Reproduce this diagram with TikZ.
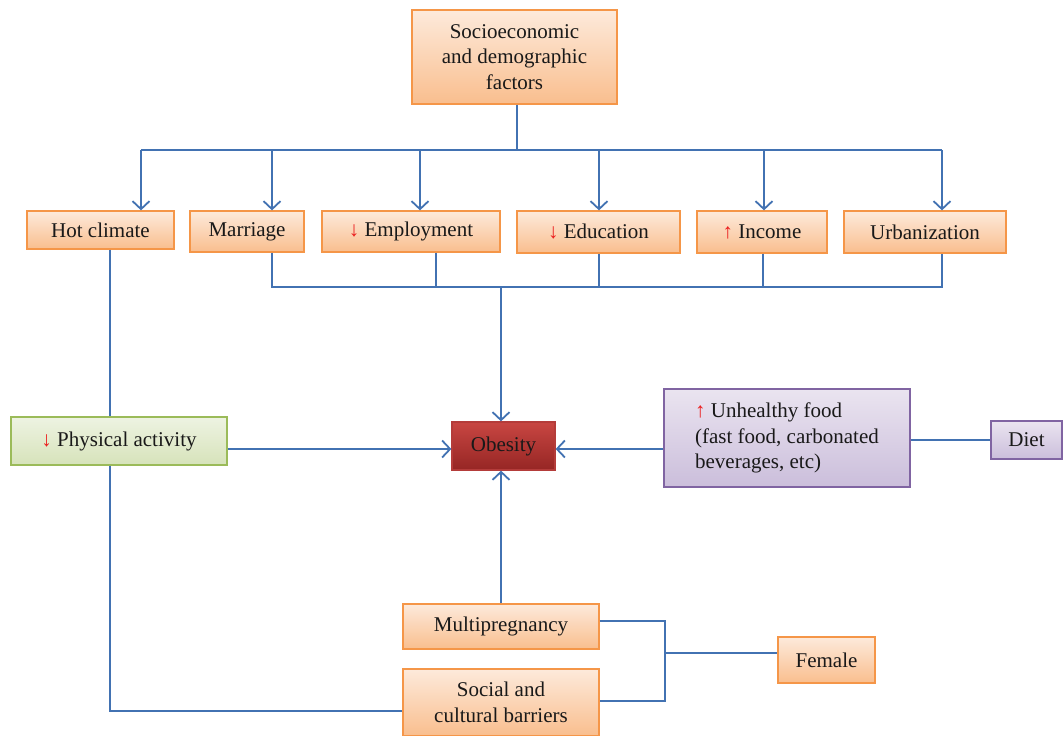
\documentclass[tikz,border=0pt]{standalone}
\usepackage{fontspec}
\setmainfont{Liberation Serif}
\usetikzlibrary{arrows.meta}
\definecolor{lineblue}{RGB}{66,114,178}
\definecolor{orTop}{RGB}{253,234,219}
\definecolor{orBot}{RGB}{249,190,142}
\definecolor{orEdge}{RGB}{245,150,72}
\definecolor{grTop}{RGB}{238,243,226}
\definecolor{grBot}{RGB}{214,227,186}
\definecolor{grEdge}{RGB}{155,187,89}
\definecolor{puTop}{RGB}{234,228,240}
\definecolor{puBot}{RGB}{203,190,219}
\definecolor{puEdge}{RGB}{128,100,162}
\definecolor{reTop}{RGB}{200,70,66}
\definecolor{reBot}{RGB}{150,38,36}
\definecolor{reEdge}{RGB}{180,60,58}
\definecolor{arrred}{RGB}{235,30,30}
\tikzset{
  x=1pt,y=-1pt,
  box/.style={draw, line width=1.3pt, inner sep=2pt, align=center, font=\fontsize{21}{25.5}\selectfont, text=black!90},
  obox/.style={box, draw=orEdge, top color=orTop, bottom color=orBot},
  gbox/.style={box, draw=grEdge, top color=grTop, bottom color=grBot},
  pbox/.style={box, draw=puEdge, top color=puTop, bottom color=puBot},
  rbox/.style={box, draw=reEdge, top color=reTop, bottom color=reBot},
  conn/.style={draw=lineblue, line width=2pt},
  arr/.style={conn, -{Straight Barb[length=8pt,width=17pt,line width=1.8pt]}},
}
\newcommand{\dn}{{\color{arrred}↓}}
\newcommand{\up}{{\color{arrred}↑}}
\begin{document}
\begin{tikzpicture}
\useasboundingbox (0,0) rectangle (1063,736);
% nodes
\node[obox, minimum width=205, minimum height=94] (socio) at (514.5,57) {Socioeconomic\\and demographic\\factors};
\node[obox, minimum width=147, minimum height=38] (hot) at (100.5,230) {Hot climate};
\node[obox, minimum width=114, minimum height=41] (mar) at (247,231.5) {Marriage};
\node[obox, minimum width=178, minimum height=41] (emp) at (411,231.5) {\dn\ Employment};
\node[obox, minimum width=163, minimum height=42] (edu) at (598.5,232) {\dn\ Education};
\node[obox, minimum width=130, minimum height=42] (inc) at (762,232) {\up\ Income};
\node[obox, minimum width=162, minimum height=42] (urb) at (925,232) {Urbanization};
\node[gbox, minimum width=216, minimum height=48] (pa) at (119,441) {\dn\ Physical activity};
\node[rbox, minimum width=103, minimum height=48] (ob) at (503.5,446) {Obesity};
\node[pbox, minimum width=246, minimum height=98, align=left] (food) at (787,438) {\up\ Unhealthy food\\(fast food, carbonated\\beverages, etc)};
\node[pbox, minimum width=71, minimum height=38] (diet) at (1026.5,440) {Diet};
\node[obox, minimum width=196, minimum height=45] (multi) at (501,626.5) {Multipregnancy};
\node[obox, minimum width=196, minimum height=67] (soc) at (501,702.5) {Social and\\cultural barriers};
\node[obox, minimum width=97, minimum height=46] (fem) at (826.5,660) {Female};
% top bus
\coordinate (busT) at (517,150);
\coordinate (busL) at (141,150);
\coordinate (busR) at (942,150);
\draw[conn] (socio.south -| busT) -- (busT);
\draw[conn] (busL) -- (busR);
\draw[arr] (busL) -- (hot.north -| busL);
\draw[arr] (272,150) -- (mar.north -| 272,0);
\draw[arr] (420,150) -- (emp.north -| 420,0);
\draw[arr] (599,150) -- (edu.north -| 599,0);
\draw[arr] (764,150) -- (inc.north -| 764,0);
\draw[arr] (busR) -- (urb.north -| busR);
% bottom bus
\coordinate (bbL) at (272,287);
\coordinate (bbR) at (942,287);
\coordinate (bbM) at (501,287);
\draw[conn] (mar.south -| bbL) -- (bbL) -- (bbR) -- (urb.south -| bbR);
\draw[conn] (emp.south -| 436,0) -- (436,287);
\draw[conn] (edu.south -| 599,0) -- (599,287);
\draw[conn] (inc.south -| 763,0) -- (763,287);
\draw[arr] (bbM) -- (ob.north -| bbM);
% left side
\coordinate (hx) at (110,0);
\draw[conn] (hot.south -| hx) -- (pa.north -| hx);
\draw[arr] (pa.east |- 0,449) -- (ob.west |- 0,449);
\draw[arr] (food.west |- 0,449) -- (ob.east |- 0,449);
\draw[conn] (food.east |- diet.west) -- (diet.west);
\coordinate (pc) at (110,711);
\draw[conn] (pa.south -| hx) -- (pc) -- (soc.west |- pc);
% multipregnancy
\draw[arr] (multi.north -| 501,0) -- (ob.south -| 501,0);
\coordinate (fj) at (665,653);
\draw[conn] (multi.east |- 0,621) -- (665,621) -- (665,701) -- (soc.east |- 0,701);
\draw[conn] (fj) -- (fem.west |- fj);
\end{tikzpicture}
\end{document}
